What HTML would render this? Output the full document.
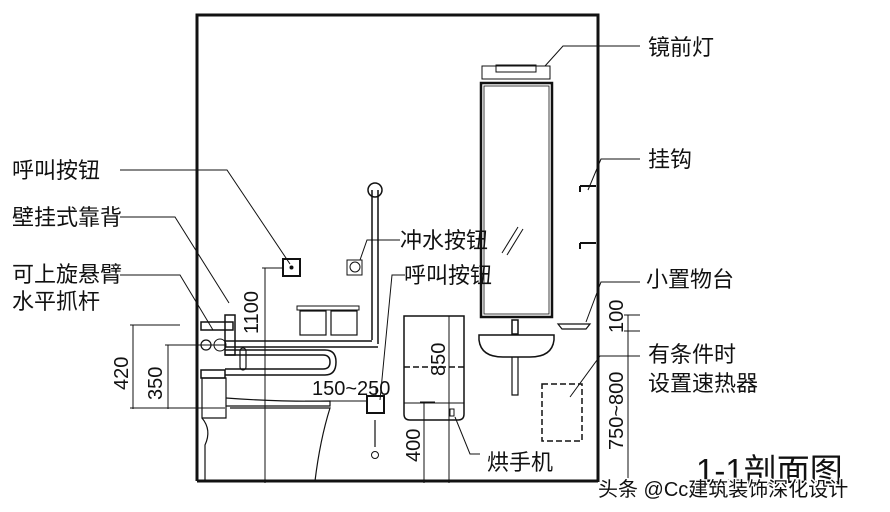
<!DOCTYPE html>
<html><head><meta charset="utf-8"><style>
html,body{margin:0;padding:0;background:#fff;width:890px;height:512px;overflow:hidden}
svg{display:block}
.t{font-family:"Liberation Sans","Noto Sans CJK SC",sans-serif;fill:#111}
</style></head><body>
<svg width="890" height="512" viewBox="0 0 890 512" xmlns="http://www.w3.org/2000/svg">
<g stroke="#111" fill="none">
<path d="M197 481 V15 H598 V482" stroke-width="3"/>
<path d="M197 481 H598" stroke-width="3"/>
<rect x="482" y="66" width="68" height="13" stroke-width="1"/>
<rect x="496" y="65" width="40" height="7" stroke-width="1"/>
<rect x="481" y="83" width="71" height="234" stroke-width="2.5"/>
<rect x="484" y="86" width="65" height="228" stroke-width="0.8"/>
<line x1="502" y1="253" x2="518" y2="227" stroke-width="1"/>
<line x1="507" y1="255" x2="523" y2="229" stroke-width="1"/>
<path d="M479 335 H554 V340 Q552 357 530 357 H503 Q481 357 479 340 Z" stroke-width="1.5"/>
<rect x="512" y="320" width="6" height="14" stroke-width="1.5"/>
<path d="M512 357 V395 H518 V357" stroke-width="1.2"/>
<path d="M580 186 H596 M580 186 V192 M580 243 H596 M580 243 V249" stroke-width="2"/>
<path d="M558 324 H590 L586 329 H562 Z" stroke-width="1.2"/>
<rect x="542" y="384" width="40" height="57" stroke-width="1.5" stroke-dasharray="6,3"/>
<path d="M404 316 H464 V414 Q464 420 458 420 H410 Q404 420 404 414 Z" stroke-width="1.5"/>
<line x1="404" y1="367" x2="464" y2="367" stroke-width="1.5" stroke-dasharray="6,3"/>
<line x1="404" y1="403" x2="464" y2="403" stroke-width="1"/>
<rect x="450" y="409" width="4" height="7" stroke-width="1"/>
<path d="M372 190 V340 M378 190 V344" stroke-width="1.5"/>
<circle cx="375" cy="190" r="7" stroke-width="1.5"/>
<path d="M225 341 H372 M225 347 H378" stroke-width="1.5"/>
<path d="M225 350 H325 Q336 350 336 362 Q336 375 325 375 H225" stroke-width="1.5"/>
<path d="M225 355 H323 Q330 355 330 362 Q330 369 323 369 H225" stroke-width="1.5"/>
<rect x="240" y="348" width="6" height="22" rx="3" stroke-width="1.2"/>
<rect x="201" y="322" width="32" height="8" stroke-width="1.5"/>
<rect x="225" y="315" width="10" height="40" stroke-width="1.5"/>
<circle cx="206" cy="345" r="5" stroke-width="1.2"/>
<circle cx="220" cy="345" r="6" stroke-width="1"/>
<rect x="201" y="370" width="24" height="8" stroke-width="1.5"/>
<path d="M202 378 H226 V418 H202 Z" stroke-width="1.2"/>
<path d="M226 398 Q280 402 330 401 V406 H226" stroke-width="1.2"/>
<path d="M230 408 H330 Q320 440 315 481" stroke-width="1.2"/>
<path d="M202 418 Q212 430 205 445 V481" stroke-width="1.2"/>
<rect x="297" y="306" width="62" height="4" stroke-width="1"/>
<rect x="300" y="311" width="26" height="24" stroke-width="1.2"/>
<rect x="331" y="311" width="26" height="24" stroke-width="1.2"/>
<rect x="283" y="259" width="17" height="17" stroke-width="2"/>
<circle cx="291.5" cy="267.5" r="1.5" fill="#111"/>
<rect x="347" y="260" width="15" height="15" stroke-width="1"/>
<circle cx="355" cy="267" r="5" stroke-width="1"/>
<rect x="367" y="396" width="17" height="17" stroke-width="2"/>
<line x1="375" y1="420" x2="375" y2="447" stroke-width="1.2"/>
<circle cx="375" cy="455" r="3.5" stroke-width="1"/>
<g stroke-width="1">
<path d="M265 268 V483 M262 268 H283"/>
<path d="M133 325 V409 M130 325 H180 M130 408 H225"/>
<path d="M168 345 V409 M165 345 H225"/>
<path d="M376 388 V396 M305 401 H367"/>
<path d="M424 402 V483 M420 402 H435"/>
<path d="M449 316 V483"/>
<path d="M628 315 V483 M624 315 H640 M624 331 H640"/>
</g>
<g stroke-width="1">
<path d="M120 170 H227 L290 264"/>
<path d="M120 217 H175 L229 303"/>
<path d="M120 275 H180 L213 330"/>
<path d="M360 260 L367 240 H400"/>
<path d="M380 400 L392 275 H405"/>
<path d="M455 417 L470 454 H480"/>
<path d="M545 66 L563 46 H640"/>
<path d="M588 190 L601 159 H640"/>
<path d="M586 322 L601 282 H640"/>
<path d="M570 397 L600 356 H640"/>
</g>
</g>
<g class="t" font-size="22">
<text x="12" y="178">呼叫按钮</text>
<text x="12" y="225">壁挂式靠背</text>
<text x="12" y="282">可上旋悬臂</text>
<text x="12" y="309">水平抓杆</text>
<text x="400" y="248">冲水按钮</text>
<text x="404" y="283">呼叫按钮</text>
<text x="487" y="470">烘手机</text>
<text x="648" y="55">镜前灯</text>
<text x="648" y="167">挂钩</text>
<text x="646" y="287">小置物台</text>
<text x="648" y="362">有条件时</text>
<text x="648" y="391">设置速热器</text>
</g>
<g class="t" font-size="20">
<text x="312" y="395">150~250</text>
<text transform="translate(258,334) rotate(-90)">1100</text>
<text transform="translate(128,390) rotate(-90)">420</text>
<text transform="translate(162,400) rotate(-90)">350</text>
<text transform="translate(445,376) rotate(-90)">850</text>
<text transform="translate(420,462) rotate(-90)">400</text>
<text transform="translate(623,333) rotate(-90)">100</text>
<text transform="translate(623,450) rotate(-90)">750~800</text>
<text x="696" y="482" font-size="33">1-1剖面图</text>
</g>
<text class="t" x="598" y="496" font-size="20" fill="#fff" stroke="#fff" stroke-width="3">头条 @Cc建筑装饰深化设计</text>
<text class="t" x="598" y="496" font-size="20" fill="#222">头条 @Cc建筑装饰深化设计</text>
</svg>
</body></html>
